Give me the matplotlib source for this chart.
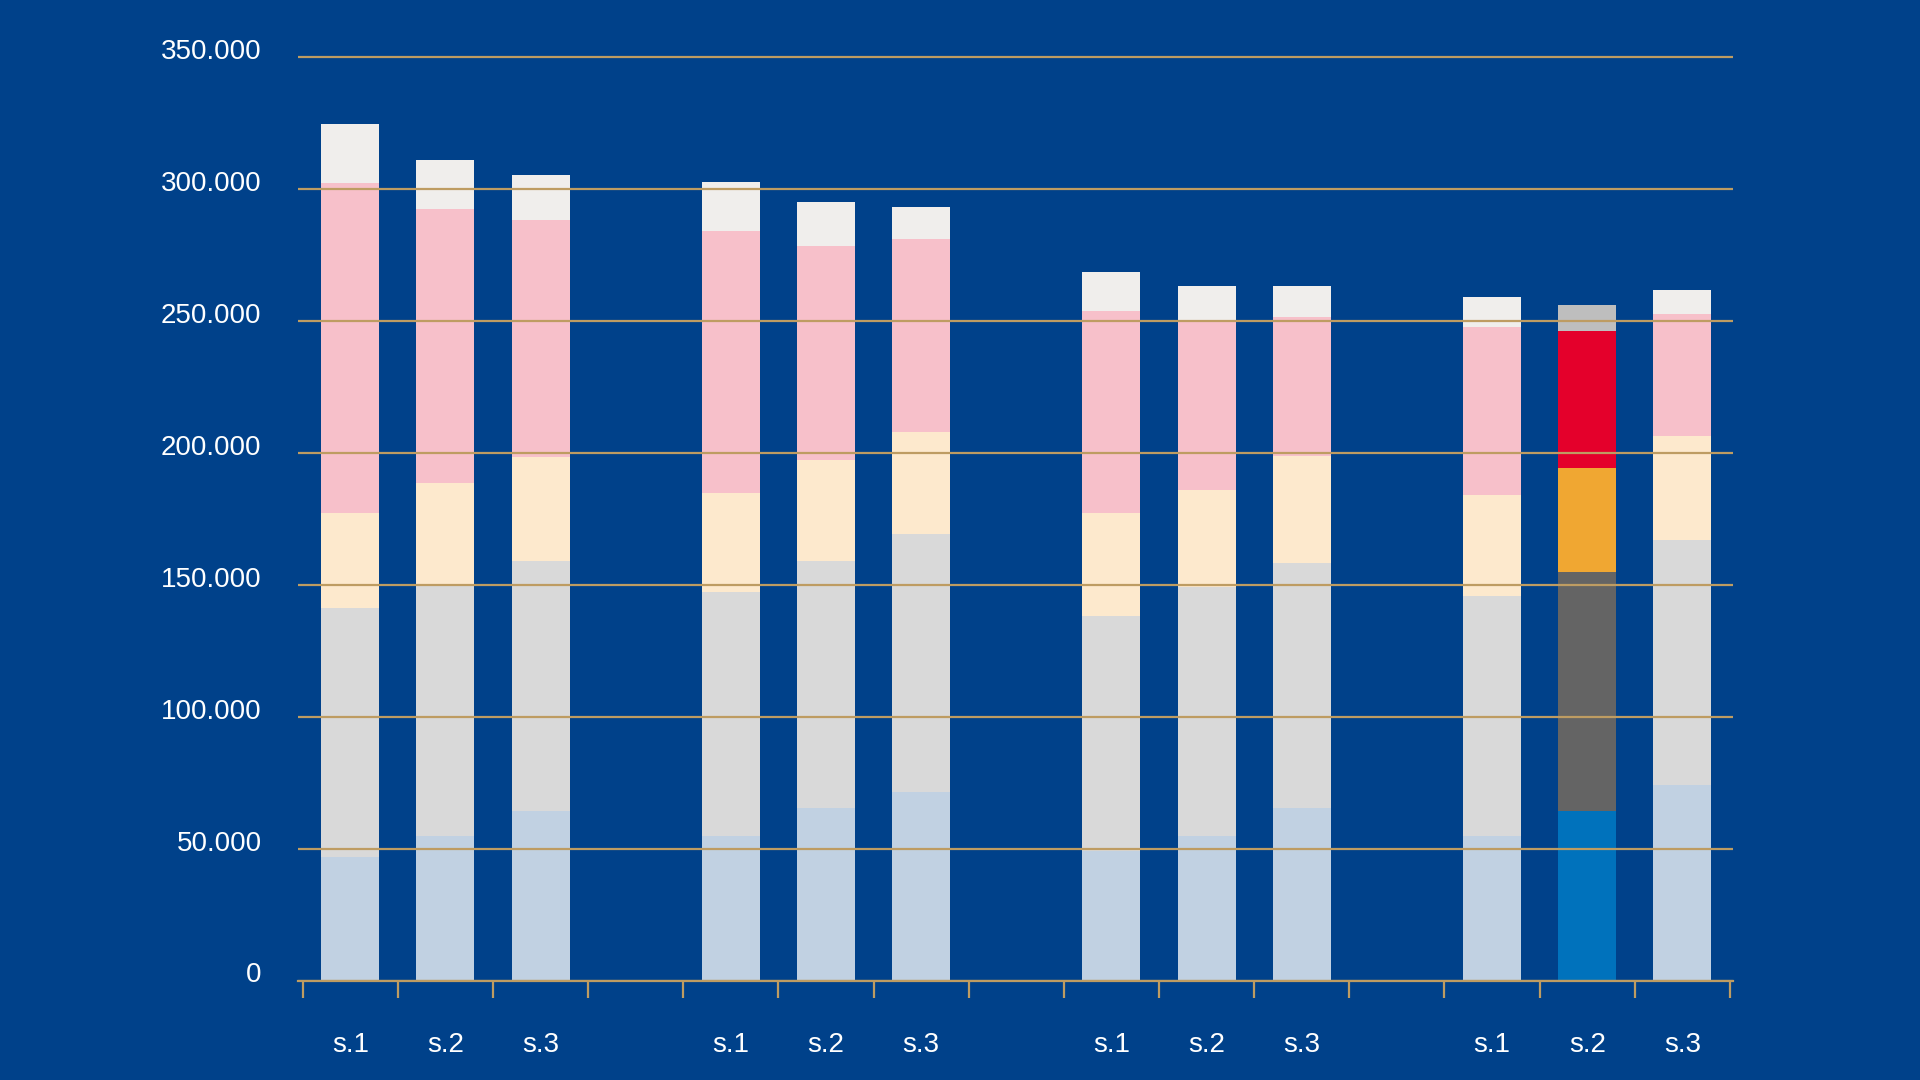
import matplotlib.pyplot as plt
import numpy as np
from matplotlib.ticker import FuncFormatter, FixedLocator
from matplotlib.transforms import ScaledTranslation

# bar labels, 4 groups of 3 scenarios
labels = ['s.1', 's.2', 's.3'] * 4
pos = [0, 1, 2, 4, 5, 6, 8, 9, 10, 12, 13, 14]

# stacked segment values (thousands), bottom -> top
layer1 = [46.9, 54.8, 64.5, 54.8, 65.5, 71.5, 49.0, 54.8, 65.5, 54.8, 64.5, 74.3]
layer2 = [94.2, 95.6, 94.7, 92.4, 93.7, 97.9, 89.3, 94.6, 93.0, 91.0, 90.5, 92.8]
layer3 = [36.2, 38.1, 39.5, 37.6, 38.1, 38.6, 39.0, 36.5, 40.5, 38.5, 39.2, 39.2]
layer4 = [125.2, 104.2, 89.6, 99.3, 81.2, 73.3, 76.6, 64.3, 52.6, 63.5, 52.2, 46.3]
layer5 = [22.3, 18.5, 17.3, 18.5, 16.7, 12.1, 14.9, 13.0, 11.6, 11.2, 9.8, 9.2]

highlight = 10  # the one bar in full colour

BG = '#00418A'
GRID = '#BE9C62'
pale = ['#C1D1E2', '#D9D9D9', '#FDE9CD', '#F7C0CA', '#F0EEEC']
strong = ['#0072BC', '#646464', '#F0A732', '#E4002B', '#BEBEBE']

plt.rcParams['font.family'] = ['Liberation Sans', 'DejaVu Sans']

fig = plt.figure(figsize=(19.2, 10.8), dpi=100, facecolor=BG)
ax = fig.add_axes([0.155, 0.0919, 0.7475, 0.8672])
ax.set_facecolor(BG)

layers = [layer1, layer2, layer3, layer4, layer5]
bottom = np.zeros(len(pos))
for i, vals in enumerate(layers):
    vals = np.array(vals) * 1000
    cols = [strong[i] if j == highlight else pale[i] for j in range(len(pos))]
    ax.bar(pos, vals, bottom=bottom, width=0.61, color=cols, linewidth=0)
    bottom += vals

ax.set_xlim(-0.553, 14.53)
ax.set_ylim(0, 355000)

# grid over the bars
ax.set_axisbelow(False)
ax.yaxis.set_major_locator(FixedLocator(np.arange(0, 350001, 50000)))
ax.yaxis.grid(True, color=GRID, linewidth=1.6)
ax.yaxis.set_major_formatter(FuncFormatter(lambda v, p: f'{int(v):,}'.replace(',', '.')))
ax.tick_params(axis='y', length=0, pad=26, labelsize=20, labelcolor='white')
for lab in ax.get_yticklabels():
    lab.set_transform(lab.get_transform() + ScaledTranslation(0, 6 / 72, fig.dpi_scale_trans))

ax.set_xticks(pos)
ax.set_xticklabels(labels)
ax.set_xticks(np.arange(-0.5, 14.6, 1), minor=True)
ax.tick_params(axis='x', which='major', length=0, pad=37, labelsize=20, labelcolor='white')
ax.tick_params(axis='x', which='minor', length=12, width=1.6, color=GRID, direction='out')

for s in ['top', 'right', 'left']:
    ax.spines[s].set_visible(False)
ax.spines['bottom'].set_color(GRID)
ax.spines['bottom'].set_linewidth(1.6)

plt.savefig('out.png', dpi=100, facecolor=BG)
